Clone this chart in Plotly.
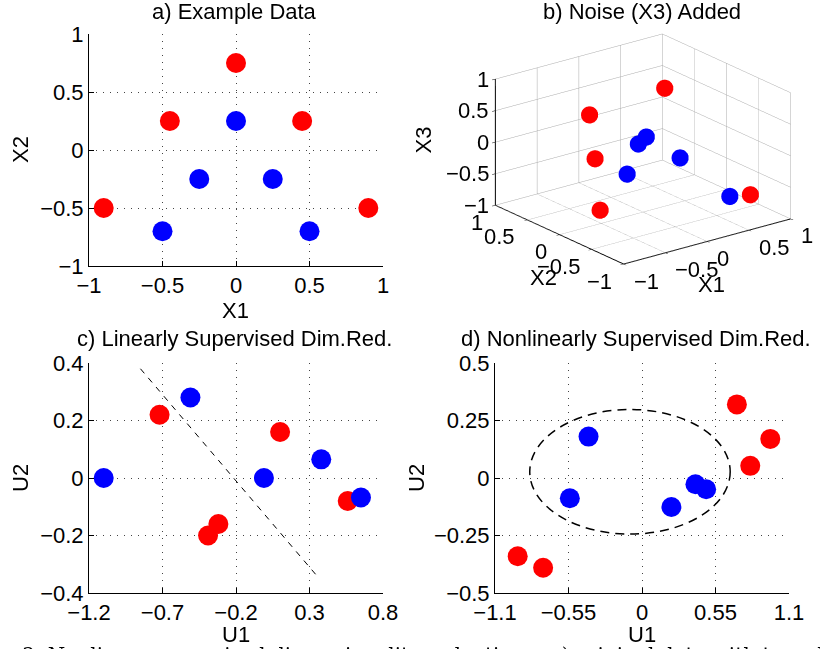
import plotly.graph_objects as go

W, H = 820, 649
FONT = "Liberation Sans, Arial, sans-serif"
RED, BLUE = "#ff0000", "#0000ff"
FS = 22

# ---- data ----
# a) example data
a_red_x1 = [0.0, -0.45, 0.45, -0.9, 0.9]
a_red_x2 = [0.75, 0.25, 0.25, -0.5, -0.5]
a_blue_x1 = [0.0, -0.25, 0.25, -0.5, 0.5]
a_blue_x2 = [0.25, -0.25, -0.25, -0.7, -0.7]
# b) noise dimension X3
b_red_x3 = [-0.50, 0.59, 0.69, -0.41, -0.81]
b_blue_x3 = [-0.51, 0.29, -0.11, 0.70, -0.60]
# c) linear supervised dim. red.
c_red_u1 = [-0.72, 0.10, -0.32, -0.39, 0.56]
c_red_u2 = [0.22, 0.16, -0.16, -0.20, -0.08]
c_blue_u1 = [-1.10, -0.51, -0.01, 0.38, 0.65]
c_blue_u2 = [0.0, 0.28, 0.0, 0.065, -0.068]
c_line_u1 = [-0.85, 0.35]
c_line_u2 = [0.38, -0.34]
# d) nonlinear supervised dim. red.
d_red_u1 = [0.71, 0.96, 0.81, -0.93, -0.74]
d_red_u2 = [0.32, 0.17, 0.053, -0.34, -0.39]
d_blue_u1 = [-0.40, -0.54, 0.22, 0.40, 0.48]
d_blue_u2 = [0.18, -0.088, -0.126, -0.027, -0.049]
d_ellipse_center = [-0.09, 0.027]
d_ellipse_radii = [0.75, 0.271]

ticks_a = [-1, -0.5, 0, 0.5, 1]
ticks_c_x = [-1.2, -0.7, -0.2, 0.3, 0.8]
ticks_c_y = [-0.4, -0.2, 0, 0.2, 0.4]
ticks_d_x = [-1.1, -0.55, 0, 0.55, 1.1]
ticks_d_y = [-0.5, -0.25, 0, 0.25, 0.5]

titles = ["a) Example Data", "b) Noise (X3) Added",
          "c) Linearly Supervised Dim.Red.", "d) Nonlinearly Supervised Dim.Red."]
caption = "3: Nonlinear supervised dimensionality reduction.   a) original data with two classes and"


def lbl(vals):
    return [f"{v:g}".replace("-", "\u2212") for v in vals]


def px2paper(x0, x1, y0, y1):
    return [x0 / W, x1 / W], [1 - y1 / H, 1 - y0 / H]


fig = go.Figure()
MS = 20


def add_pts(x, y, color, xa, ya):
    fig.add_trace(go.Scatter(x=x, y=y, mode="markers", xaxis=xa, yaxis=ya,
                             marker=dict(size=MS, color=color, line=dict(width=0)),
                             showlegend=False, hoverinfo="skip"))


add_pts(a_red_x1, a_red_x2, RED, "x", "y")
add_pts(a_blue_x1, a_blue_x2, BLUE, "x", "y")
fig.add_trace(go.Scatter(x=c_line_u1, y=c_line_u2, mode="lines", xaxis="x2", yaxis="y2",
                         line=dict(color="black", width=1, dash="6px,6px"),
                         showlegend=False, hoverinfo="skip"))
add_pts(c_red_u1, c_red_u2, RED, "x2", "y2")
add_pts(c_blue_u1, c_blue_u2, BLUE, "x2", "y2")
add_pts(d_red_u1, d_red_u2, RED, "x3", "y3")
add_pts(d_blue_u1, d_blue_u2, BLUE, "x3", "y3")

# 3D
for xs, ys, zs, col in [(a_red_x1, a_red_x2, b_red_x3, RED), (a_blue_x1, a_blue_x2, b_blue_x3, BLUE)]:
    fig.add_trace(go.Scatter3d(x=xs, y=ys, z=zs, mode="markers", scene="scene",
                               marker=dict(size=10, color=col, opacity=1, line=dict(width=0)),
                               showlegend=False, hoverinfo="skip"))

fig.add_shape(type="circle", xref="x3", yref="y3",
              x0=d_ellipse_center[0] - d_ellipse_radii[0], x1=d_ellipse_center[0] + d_ellipse_radii[0],
              y0=d_ellipse_center[1] - d_ellipse_radii[1], y1=d_ellipse_center[1] + d_ellipse_radii[1],
              line=dict(color="black", width=1.5, dash="9px,6px"))

ax_common = dict(showline=True, linecolor="black", linewidth=1, ticks="inside", ticklen=5,
                 tickcolor="black", showgrid=True, gridcolor="#444444", gridwidth=1,
                 griddash="1px,6px", zeroline=False, tickfont=dict(family=FONT, size=FS, color="black"),
                 mirror=False, automargin=False)

dxa, dya = px2paper(89, 383, 34, 266)
dxc, dyc = px2paper(89, 383, 363, 593)
dxd, dyd = px2paper(495, 789, 363, 593)

fig.update_layout(
    xaxis=dict(domain=dxa, range=[-1, 1], tickvals=ticks_a, ticktext=lbl(ticks_a), anchor="y", **ax_common),
    yaxis=dict(domain=dya, range=[-1, 1], tickvals=ticks_a, ticktext=lbl(ticks_a), anchor="x", **ax_common),
    xaxis2=dict(domain=dxc, range=[-1.2, 0.8], tickvals=ticks_c_x, ticktext=lbl(ticks_c_x), anchor="y2", **ax_common),
    yaxis2=dict(domain=dyc, range=[-0.4, 0.4], tickvals=ticks_c_y, ticktext=lbl(ticks_c_y), anchor="x2", **ax_common),
    xaxis3=dict(domain=dxd, range=[-1.1, 1.1], tickvals=ticks_d_x, ticktext=lbl(ticks_d_x), anchor="y3", **ax_common),
    yaxis3=dict(domain=dyd, range=[-0.5, 0.5], tickvals=ticks_d_y, ticktext=lbl(ticks_d_y), anchor="x3", **ax_common),
)

ax3 = dict(range=[-1, 1], tickvals=ticks_a, showticklabels=False,
           showgrid=True, gridcolor="#aaaaaa", gridwidth=1, showline=True, linecolor="black",
           linewidth=2, zeroline=False, showbackground=False, showspikes=False, ticks="inside",
           ticklen=4, tickcolor="black", title=dict(text=""))

# 3D tick labels / titles as scene annotations anchored in data coordinates
s_ann = []


def s_text(x, y, z, s, xanchor, xshift, yshift, angle=0):
    s_ann.append(dict(x=x, y=y, z=z, text=s, showarrow=False, xanchor=xanchor, yanchor="middle",
                      xshift=xshift, yshift=yshift, textangle=angle,
                      font=dict(family=FONT, size=FS, color="black")))


for t, s in zip(ticks_a, lbl(ticks_a)):
    s_text(t, -1, -1, s, "left", 8, -17)      # X1 ticks
    s_text(-1, t, -1, s, "right", -10, -17)   # X2 ticks
    s_text(-1, 1, t, s, "right", -4, 0)       # X3 ticks
s_text(-1, 1, 0, "X3", "center", -72, 2, angle=-90)
s_text(-1, 0, -1, "X2", "center", -16, -43)
s_text(0, -1, -1, "X1", "center", 4, -43)

k = 1.4
f = 1.62
sdx, sdy = px2paper(483, 803, 19, 279)
fig.update_layout(scene=dict(
    domain=dict(x=sdx, y=sdy),
    xaxis=ax3, yaxis=ax3, zaxis=ax3,
    aspectmode="manual", aspectratio=dict(x=f, y=f, z=0.64 * f),
    camera=dict(eye=dict(x=-0.570 * k, y=-0.742 * k, z=0.352 * k), up=dict(x=0, y=0, z=1),
                center=dict(x=0, y=0, z=0), projection=dict(type="orthographic")),
    annotations=s_ann,
    bgcolor="white"))

ann = []


def text(x, y, s, size=FS, angle=0, family=FONT, xanchor="center", yanchor="middle"):
    ann.append(dict(x=x / W, y=1 - y / H, xref="paper", yref="paper", text=s, showarrow=False,
                    textangle=angle, xanchor=xanchor, yanchor=yanchor,
                    font=dict(family=family, size=size, color="black")))


text(235, 12, titles[0])
text(642, 12, titles[1])
text(235, 338, titles[2])
text(636, 338, titles[3])
text(236, 311, "X1")
text(20, 150, "X2", angle=-90)
text(236, 634, "U1")
text(20, 478, "U2", angle=-90)
text(642, 634, "U1")
text(416, 478, "U2", angle=-90)
text(20, 641, caption, size=20, family="DejaVu Serif, serif", xanchor="left", yanchor="top")

fig.update_layout(annotations=ann, width=W, height=H, margin=dict(l=0, r=0, t=0, b=0, autoexpand=False),
                  paper_bgcolor="white", plot_bgcolor="white", showlegend=False)
fig.write_html("out.html", config={"displayModeBar": False},
               post_script="document.body.style.margin='0';")
